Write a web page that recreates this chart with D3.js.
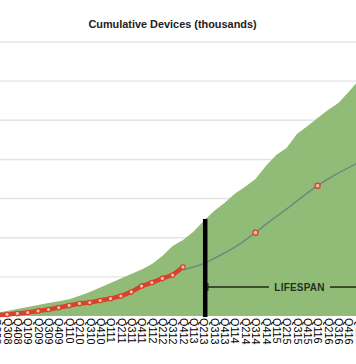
<!DOCTYPE html>
<html><head><meta charset="utf-8">
<script src="https://cdn.jsdelivr.net/npm/d3@7/dist/d3.min.js"></script>
<style>
html,body{margin:0;padding:0;background:#fff;overflow:hidden;}
svg{display:block;font-family:"Liberation Sans",Arial,sans-serif;}
</style></head>
<body>
<svg id="chart" width="356" height="364"></svg>
<script>
// ---- data ----
const quarters = ["Q208","Q308","Q408","Q109","Q209","Q309","Q409","Q110","Q210","Q310","Q410",
  "Q111","Q211","Q311","Q411","Q112","Q212","Q312","Q412","Q113","Q213","Q313","Q413",
  "Q114","Q214","Q314","Q414","Q115","Q215","Q315","Q415","Q116","Q216","Q316","Q416","Q117"];
// upper envelope (green area), Q208..Q117
const envelope = [80,130,180,230,280,330,380,430,520,610,730,840,960,1070,1190,1330,1530,1790,
  1940,2150,2430,2680,2890,3120,3300,3500,3830,4110,4290,4650,4850,5060,5260,5440,5720,6030];
// actual cumulative devices, Q208..Q412
const actual = [15,40,65,90,130,165,215,270,320,345,395,445,510,615,765,855,960,1045,1250];
// projected trend, Q412..Q117
const trendQuarters = quarters.slice(18);
const trend = [1175,1250,1340,1470,1610,1760,1940,2130,2340,2540,2730,2940,3140,3330,3500,3650,3790,3930];
const markerQuarters = ["Q314","Q116"];
const markerValues = [2130,3330];
const gridValues = [1000,2000,3000,4000,5000,6000,7000];
const title = "Cumulative Devices (thousands)";
const lifespanQuarter = "Q213";
const lifespanTop = 2480;
const lifespanArrow = 740;
const lifespanLabel = "LIFESPAN";

// ---- scales ----
const svg = d3.select("#chart");
const x = d3.scalePoint().domain(quarters).range([-3.35, 359]);
const y = d3.scaleLinear().domain([0, 7000]).range([316, 42]);

// grid
svg.append("g").selectAll("line").data(gridValues).join("line")
  .attr("x1", 0).attr("x2", 356)
  .attr("y1", d => y(d)).attr("y2", d => y(d))
  .attr("stroke", "#e4e4e4").attr("stroke-width", 1.4);

// title
svg.append("text").attr("x", 172.5).attr("y", 28).attr("text-anchor", "middle")
  .attr("font-size", 10.9).attr("font-weight", "bold").attr("fill", "#222").text(title);

// green area
const envData = quarters.map((q, i) => ({q, v: envelope[i]}));
svg.append("path").datum(envData)
  .attr("d", d3.area().x(d => x(d.q)).y0(y(0)).y1(d => y(d.v)))
  .attr("fill", "#91bc78");

// trend line
const trData = trendQuarters.map((q, i) => ({q, v: trend[i]}));
svg.append("path").datum(trData)
  .attr("d", d3.line().curve(d3.curveMonotoneX).x(d => x(d.q)).y(d => y(d.v)))
  .attr("fill", "none").attr("stroke", "#6e8a7c").attr("stroke-width", 1.5);

// actual line
const acData = actual.map((v, i) => ({q: quarters[i], v}));
svg.append("path").datum(acData)
  .attr("d", d3.line().x(d => x(d.q)).y(d => y(d.v)))
  .attr("fill", "none").attr("stroke", "#d8412c").attr("stroke-width", 4.5);
svg.append("g").selectAll("circle").data(acData).join("circle")
  .attr("cx", d => x(d.q)).attr("cy", d => y(d.v)).attr("r", 2.2)
  .attr("fill", "#f3c2b4").attr("stroke", "#d8412c").attr("stroke-width", 1.2);

// projected markers
svg.append("g").selectAll("circle").data(markerQuarters.map((q, i) => ({q, v: markerValues[i]}))).join("circle")
  .attr("cx", d => x(d.q)).attr("cy", d => y(d.v)).attr("r", 2.6)
  .attr("fill", "#e9b9a2").attr("stroke", "#d8412c").attr("stroke-width", 1.3);

// lifespan marker
const lx = x(lifespanQuarter) + 1.5;
svg.append("line").attr("x1", lx).attr("x2", lx).attr("y1", y(lifespanTop)).attr("y2", y(0) + 1)
  .attr("stroke", "#000").attr("stroke-width", 4.5);
const ay = y(lifespanArrow);
svg.append("line").attr("x1", lx + 2.5).attr("x2", lx + 2.5).attr("y1", ay - 4).attr("y2", ay + 4)
  .attr("stroke", "#1e2a18").attr("stroke-width", 1.5);
svg.append("line").attr("x1", lx + 2).attr("x2", 269).attr("y1", ay).attr("y2", ay)
  .attr("stroke", "#1e2a18").attr("stroke-width", 1.5);
svg.append("line").attr("x1", 330).attr("x2", 356).attr("y1", ay).attr("y2", ay)
  .attr("stroke", "#1e2a18").attr("stroke-width", 1.5);
svg.append("text").attr("x", 299.5).attr("y", ay + 3.6).attr("text-anchor", "middle")
  .attr("font-size", 10).attr("font-weight", "bold").attr("fill", "#24321c").attr("letter-spacing", 0.2).text(lifespanLabel);

// x axis labels
const ax = svg.append("g").attr("transform", `translate(0,${y(0)})`)
  .call(d3.axisBottom(x).tickSize(0).tickPadding(0));
ax.select(".domain").remove();
ax.selectAll("text")
  .attr("transform", "rotate(90)")
  .attr("x", 2).attr("y", 0).attr("dy", "0.35em")
  .attr("text-anchor", "start")
  .attr("font-size", 10.8).attr("font-family", "Liberation Sans, Arial, sans-serif")
  .attr("fill", "#000");
</script>
</body></html>
